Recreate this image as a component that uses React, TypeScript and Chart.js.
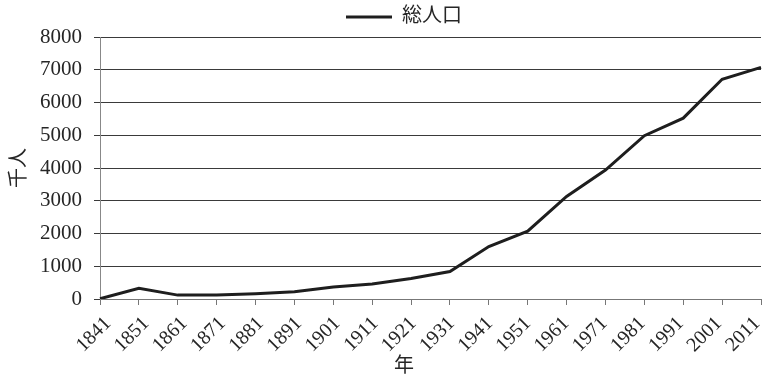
import { useEffect, useRef } from "react";
import { Chart, registerables } from "chart.js";

Chart.register(...registerables);

// Census years and total population (thousands)
const years = [
  "1841", "1851", "1861", "1871", "1881", "1891", "1901", "1911", "1921",
  "1931", "1941", "1951", "1961", "1971", "1981", "1991", "2001", "2011",
];
const population = [
  7, 330, 119, 124, 160, 221, 368, 457, 625,
  840, 1600, 2070, 3130, 3937, 4987, 5522, 6708, 7072,
];
const seriesLabel = "総人口";
const yTitle = "千人";
const xTitle = "年";
const yMin = 0;
const yMax = 8000;
const yStep = 1000;

const FONT = "'Liberation Serif', 'Noto Sans CJK JP', serif";
const INK = "#1e1e1e";
const TEXT = "#262626";
const LEGEND_SHIFT = 22;
// Year labels drift from right of their tick (first) to flush with it (last).
const LABEL_SHIFT_FIRST = 8;
const LABEL_SHIFT_LAST = -4;

// Moves the legend to the right, nudges the year labels and writes the
// x-axis caption under the legend's centre.
const captionPlugin = {
  id: "captionPlugin",
  afterLayout(chart: any) {
    const lg = chart.legend;
    if (lg) {
      lg.left += LEGEND_SHIFT;
      lg.right += LEGEND_SHIFT;
      if (lg.adjustHitBoxes) lg.adjustHitBoxes();
    }
  },
  beforeDraw(chart: any) {
    const sc = chart.scales.x;
    if (!sc || !sc.getLabelItems) return;
    const items = sc.getLabelItems();
    if (!items || items.__shifted) return;
    const n = items.length;
    items.forEach((it: any, i: number) => {
      const t = n > 1 ? i / (n - 1) : 0;
      it.options.translation[0] +=
        LABEL_SHIFT_FIRST + (LABEL_SHIFT_LAST - LABEL_SHIFT_FIRST) * t;
    });
    items.__shifted = true;
  },
  afterDraw(chart: any) {
    const { ctx } = chart;
    const lg = chart.legend;
    const cx = lg ? (lg.left + lg.right) / 2 : chart.width / 2;
    ctx.save();
    ctx.font = `20px ${FONT}`;
    ctx.fillStyle = TEXT;
    ctx.textAlign = "center";
    ctx.textBaseline = "middle";
    ctx.fillText(xTitle, cx, chart.height - 15);
    ctx.restore();
  },
};

export default function App() {
  const canvasRef = useRef<HTMLCanvasElement | null>(null);

  useEffect(() => {
    document.body.style.margin = "0";
    const canvas = canvasRef.current;
    if (!canvas) return;

    const chart = new Chart(canvas, {
      type: "line",
      data: {
        labels: years,
        datasets: [
          {
            label: seriesLabel,
            data: population,
            borderColor: INK,
            backgroundColor: INK,
            borderWidth: 3,
            pointRadius: 0,
            tension: 0,
            fill: false,
          },
        ],
      },
      options: {
        responsive: false,
        animation: false,
        layout: { padding: 0 },
        plugins: {
          tooltip: { enabled: false },
          legend: {
            display: true,
            position: "top",
            labels: {
              boxWidth: 46,
              boxHeight: 3,
              padding: 7,
              color: TEXT,
              font: { family: FONT, size: 20 },
              generateLabels: (c: any) =>
                Chart.defaults.plugins.legend.labels
                  .generateLabels(c)
                  .map((it: any) => ({ ...it, lineWidth: 0, fillStyle: INK })),
            },
          },
        },
        scales: {
          x: {
            type: "category",
            offset: false,
            border: { color: "#777", width: 1 },
            grid: {
              drawOnChartArea: false,
              drawTicks: true,
              tickLength: 6,
              color: "#777",
            },
            ticks: {
              autoSkip: false,
              maxRotation: 45,
              minRotation: 45,
              padding: 7,
              color: TEXT,
              font: { family: FONT, size: 20 },
            },
            afterFit: (scale: any) => {
              scale.height = 83;
              scale.paddingLeft = 0;
              scale.paddingRight = 3;
            },
          },
          y: {
            min: yMin,
            max: yMax,
            border: { color: "#888", width: 1 },
            grid: {
              color: "#3a3a3a",
              lineWidth: 1,
              tickLength: 6,
              drawTicks: true,
            },
            ticks: {
              stepSize: yStep,
              padding: 12,
              color: TEXT,
              font: { family: FONT, size: 21 },
              callback: (v: any) => String(v),
            },
            title: {
              display: true,
              text: yTitle,
              color: TEXT,
              padding: { top: 8, bottom: 0 },
              font: { family: FONT, size: 20 },
            },
            afterFit: (scale: any) => {
              scale.width = 100;
            },
          },
        },
      },
      plugins: [captionPlugin],
    });

    return () => chart.destroy();
  }, []);

  return (
    <div style={{ width: 764, height: 382 }}>
      <canvas ref={canvasRef} width={764} height={382} />
    </div>
  );
}
